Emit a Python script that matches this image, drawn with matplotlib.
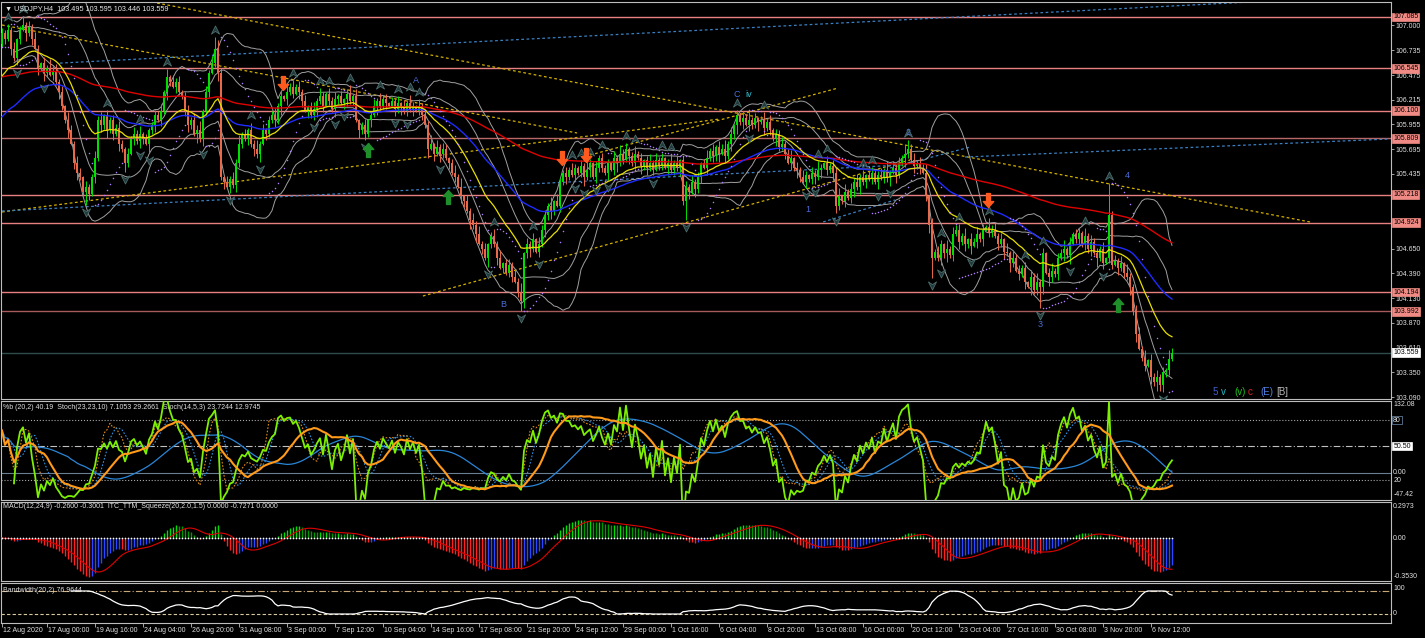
import numpy as np
import pandas as pd
import matplotlib
matplotlib.use('Agg')
import matplotlib.pyplot as plt
from matplotlib.path import Path

plt.rcParams['font.family'] = ['Liberation Sans', 'DejaVu Sans']

# ---------------- data ----------------
title_text = "\u25BC USDJPY,H4  103.495 103.595 103.446 103.559"
first_open = 106.80
closes = [
    106.92, 106.85, 106.95, 106.75, 106.65, 106.85, 106.95, 107.00, 106.92, 106.98,
    106.85, 106.75, 106.55, 106.60, 106.50, 106.55, 106.48, 106.52, 106.40, 106.30,
    106.15, 106.00, 105.90, 105.75, 105.55, 105.45, 105.40, 105.25, 105.30, 105.22,
    105.40, 105.60, 106.00, 105.95, 106.05, 105.90, 106.00, 105.85, 105.92, 105.75,
    105.70, 105.55, 105.65, 105.80, 105.85, 105.78, 105.85, 105.80, 105.75, 105.90,
    105.95, 106.05, 106.00, 106.10, 106.30, 106.45, 106.40, 106.35, 106.40, 106.30,
    106.25, 106.10, 105.95, 106.00, 105.85, 105.90, 105.80, 106.10, 106.30, 106.50,
    106.60, 106.75, 106.50, 105.40, 105.35, 105.30, 105.38, 105.32, 105.55, 105.75,
    105.85, 105.80, 105.90, 105.75, 105.70, 105.65, 105.75, 105.90, 105.85, 106.00,
    106.05, 106.00, 106.15, 106.25, 106.22, 106.30, 106.35, 106.28, 106.35, 106.30,
    106.20, 106.10, 106.15, 106.05, 106.12, 106.20, 106.25, 106.15, 106.28, 106.20,
    106.12, 106.22, 106.25, 106.18, 106.22, 106.28, 106.20, 106.25, 106.00, 105.90,
    105.95, 105.85, 106.00, 106.05, 106.15, 106.20, 106.15, 106.22, 106.18, 106.15,
    106.20, 106.12, 106.18, 106.15, 106.10, 106.18, 106.12, 106.15, 106.10, 106.15,
    106.05, 105.95, 105.70, 105.75, 105.65, 105.72, 105.65, 105.70, 105.60, 105.55,
    105.45, 105.40, 105.30, 105.20, 105.15, 105.05, 104.95, 104.90, 104.80, 104.70,
    104.65, 104.55, 104.70, 104.78, 104.70, 104.55, 104.45, 104.50, 104.40, 104.48,
    104.35, 104.30, 104.20, 104.10, 104.60, 104.70, 104.65, 104.75, 104.62, 104.70,
    104.85, 105.00, 105.10, 105.05, 105.15, 105.10, 105.35, 105.45, 105.40, 105.48,
    105.42, 105.50, 105.45, 105.52, 105.40, 105.48, 105.55, 105.40, 105.50, 105.60,
    105.50, 105.45, 105.55, 105.48, 105.60, 105.55, 105.65, 105.58, 105.70, 105.62,
    105.55, 105.65, 105.60, 105.52, 105.58, 105.50, 105.55, 105.48, 105.58, 105.52,
    105.60, 105.50, 105.55, 105.48, 105.55, 105.50, 105.58, 105.15, 105.30, 105.25,
    105.35, 105.28, 105.40, 105.55, 105.50, 105.60, 105.68, 105.62, 105.72, 105.65,
    105.70, 105.62, 105.75, 105.85, 105.95, 106.05, 105.98, 106.02, 105.95, 106.00,
    105.95, 106.02, 105.98, 106.00, 105.92, 105.98, 105.90, 105.80, 105.85, 105.72,
    105.75, 105.65, 105.55, 105.60, 105.50, 105.48, 105.40, 105.35, 105.42, 105.38,
    105.45, 105.40, 105.48, 105.50, 105.55, 105.48, 105.52, 105.45, 105.10, 105.20,
    105.15, 105.25, 105.18, 105.28, 105.35, 105.30, 105.40, 105.35, 105.42, 105.38,
    105.45, 105.35, 105.42, 105.40, 105.48, 105.40, 105.45, 105.50, 105.42, 105.55,
    105.60, 105.65, 105.70, 105.58, 105.52, 105.55, 105.50, 105.45, 105.20, 104.90,
    104.55, 104.62, 104.55, 104.70, 104.60, 104.65, 104.58, 104.80, 104.85, 104.72,
    104.78, 104.70, 104.75, 104.68, 104.72, 104.80, 104.75, 104.85, 104.88, 104.82,
    104.85, 104.78, 104.70, 104.75, 104.62, 104.60, 104.50, 104.55, 104.42, 104.38,
    104.45, 104.30, 104.25, 104.35, 104.22, 104.30, 104.25, 104.60, 104.40, 104.35,
    104.42, 104.38, 104.55, 104.60, 104.65, 104.58, 104.70, 104.80, 104.75, 104.82,
    104.70, 104.78, 104.65, 104.72, 104.60, 104.55, 104.65, 104.50, 104.55, 105.00,
    104.48, 104.52, 104.45, 104.50, 104.40, 104.35, 104.25, 104.00, 103.75, 103.60,
    103.50, 103.42, 103.48, 103.30, 103.25, 103.30, 103.22, 103.35, 103.38, 103.495,
    103.559,
]
upper_wick = ("3242513624 2531426352 4163253142 2536142435 3142536241 2435162534 1342536142 "
              "5263142536 2415362413 3524163524 2413526314 3524136251 2413526341 3251426315 "
              "2436152431 3526142536 2413526134 2536142415 3426153242 5314263152 4231526341 "
              "3524136252 4136251342 5241362514 3625142536 2413625143 5236142531 4263152436 "
              "1524362513 4235162534 2613524361 5243162534 2614352416 3524162534 2415362413 "
              "5243615243 1625342516 3425163245 2614352416 3")
lower_wick = ("2314253162 4152631425 3261452314 1425362415 2631425316 3514263142 2453162534 "
              "1362514253 3142536142 2536142315 4152362413 2631452316 3425163241 1536242513 "
              "3241526314 2315426351 4163251423 3142536214 2536314252 1423625143 3251462315 "
              "2416352413 3152426315 2634152436 1425362514 3261524153 2415263142 3526142513 "
              "2413625241 3152436152 2631524136 4125362415 2536142513 3142526314 2516342516 "
              "3241526134 2435162413 3152426351 2415362534 2")
wick_unit = 0.015
high_spikes = {7: 107.06, 55: 106.52, 71: 106.87, 245: 106.10, 302: 105.79, 369: 105.34}
low_spikes = {28: 105.11, 121: 105.80, 142: 105.60, 173: 104.00, 228: 104.95,
              278: 105.02, 310: 104.34, 346: 104.03, 386: 103.15}

levels = [107.085, 106.545, 106.100, 105.809, 105.218, 104.924, 104.194, 103.992]
level_labels = ["107.085", "106.545", "106.100", "105.809", "105.218", "104.924", "104.194", "103.992"]
level_colors = ['#e88080', '#e88080', '#e88080', '#b86868', '#e88080', '#e88080', '#e88080', '#a85a5a']
last_price = 103.559

price_ticks = [107.000, 106.735, 106.475, 106.215, 105.955, 105.695, 105.435,
               104.650, 104.390, 104.130, 103.870, 103.610, 103.350, 103.090]
price_tick_labels = ["107.000", "106.735", "106.475", "106.215", "105.955", "105.695", "105.435",
                     "104.650", "104.390", "104.130", "103.870", "103.610", "103.350", "103.090"]

x_label_bars = [0, 15, 31, 47, 63, 79, 95, 111, 127, 143, 159, 175, 191, 207, 223,
                239, 255, 271, 287, 303, 319, 335, 351, 367, 383]
x_labels = ["12 Aug 2020", "17 Aug 00:00", "19 Aug 16:00", "24 Aug 04:00", "26 Aug 20:00",
            "31 Aug 08:00", "3 Sep 00:00", "7 Sep 12:00", "10 Sep 04:00", "14 Sep 16:00",
            "17 Sep 08:00", "21 Sep 20:00", "24 Sep 12:00", "29 Sep 00:00", "1 Oct 16:00",
            "6 Oct 04:00", "8 Oct 20:00", "13 Oct 08:00", "16 Oct 00:00", "20 Oct 12:00",
            "23 Oct 04:00", "27 Oct 16:00", "30 Oct 08:00", "3 Nov 20:00", "6 Nov 12:00"]

# trendlines: (bar0, price0, bar1, price1)
yellow_lines = [(51.7, 107.231, 436.0, 104.931),
                (0.0, 107.000, 191.7, 105.866),
                (0.0, 105.036, 239.3, 106.013),
                (140.3, 104.153, 302.7, 105.582),
                (196.0, 105.634, 278.7, 106.338)]
blue_lines = [(19.3, 106.600, 416.0, 107.242),
              (0.0, 105.046, 299.3, 105.529),
              (296.0, 105.498, 322.7, 105.718),
              (321.0, 105.613, 462.7, 105.803),
              (273.7, 104.931, 297.7, 105.162)]

up_arrow_bars = [122, 148.7, 372]
up_arrow_prices = [105.687, 105.193, 104.060]
down_arrow_bars = [93.7, 186.7, 194.7, 328.7]
down_arrow_prices = [106.390, 105.603, 105.634, 105.162]

wave_text = ["A", "B", "C", "iv", "1", "2", "3", "4"]
wave_bars = [138, 167, 245, 249, 268.7, 302, 346, 375]
wave_prices = [106.42, 104.059, 106.275, 106.275, 105.057, 105.866, 103.849, 105.414]
wave_colors = ['#4a6ed8', '#4a6ed8', '#4a6ed8', '#30c0d0', '#4a6ed8', '#4a6ed8', '#4a6ed8', '#4a6ed8']

corner_text = ["5", "v", "(v)", "c", "(E)", "[B]"]
corner_colors = ['#4060d0', '#20b8c8', '#20c020', '#e02020', '#5080e0', '#b8b8b8']
corner_px = [1213, 1221, 1234, 1248, 1260, 1276]

p1_title = "%b (20,2) 40.19  Stoch(23,23,10) 7.1053 29.2661  Stoch(14,5,3) 23.7244 12.9745"
p2_title = "MACD(12,24,9) -0.2600 -0.3001  ITC_TTM_Squeeze(20,2.0,1.5) 0.0000 -0.7271 0.0000"
p3_title = "Bandwidth(20,2) 76.9644"

# ---------------- derived series ----------------
c = np.array(closes, dtype=float)
n = len(c)
o = np.r_[first_open, c[:-1]]
uw = np.array([int(ch) for ch in upper_wick.replace(' ', '')]) * wick_unit
lw_ = np.array([int(ch) for ch in lower_wick.replace(' ', '')]) * wick_unit
assert len(uw) == n and len(lw_) == n, (len(uw), len(lw_), n)
h = np.maximum(o, c) + uw
l = np.minimum(o, c) - lw_
for k, v in high_spikes.items():
    h[k] = max(h[k], v)
for k, v in low_spikes.items():
    l[k] = min(l[k], v)
x = np.arange(n)


def ema(arr, period, seed):
    a = 2.0 / (period + 1)
    out = np.empty(len(arr))
    prev = seed
    for i, v in enumerate(arr):
        prev = prev + a * (v - prev)
        out[i] = prev
    return out


ma_yellow = ema(c, 21, 106.42)
ma_blue = ema(c, 50, 106.00)
ma_red = ema(c, 150, 106.45)

s = pd.Series(c)
mid = s.rolling(20, min_periods=5).mean()
sd = s.rolling(20, min_periods=5).std(ddof=0)
bb2u, bb2l = mid + 2 * sd, mid - 2 * sd
bb1u, bb1l = mid + 1 * sd, mid - 1 * sd


def psar(hi, lo, step=0.02, mx=0.2):
    out = np.zeros(len(hi))
    bull = True
    af = step
    ep = hi[0]
    out[0] = lo[0]
    for i in range(1, len(hi)):
        prev = out[i - 1]
        sv = prev + af * (ep - prev)
        if bull:
            sv = min(sv, lo[i - 1], lo[max(i - 2, 0)])
            if lo[i] < sv:
                bull, sv, ep, af = False, ep, lo[i], step
            elif hi[i] > ep:
                ep, af = hi[i], min(af + step, mx)
        else:
            sv = max(sv, hi[i - 1], hi[max(i - 2, 0)])
            if hi[i] > sv:
                bull, sv, ep, af = True, ep, hi[i], step
            elif lo[i] < ep:
                ep, af = lo[i], min(af + step, mx)
        out[i] = sv
    return out


sar = psar(h, l)

fr_up = [i for i in range(2, n - 2) if h[i] > max(h[i - 2], h[i - 1], h[i + 1], h[i + 2])]
fr_dn = [i for i in range(2, n - 2) if l[i] < min(l[i - 2], l[i - 1], l[i + 1], l[i + 2])]


def stoch(kp, dp, slow):
    hh = pd.Series(h).rolling(kp, min_periods=1).max()
    ll = pd.Series(l).rolling(kp, min_periods=1).min()
    num = (s - ll).rolling(slow, min_periods=1).sum()
    den = (hh - ll).rolling(slow, min_periods=1).sum()
    main = num / den * 100
    return main, main.rolling(dp, min_periods=1).mean()


st1m, st1s = stoch(23, 23, 10)
st2m, st2s = stoch(14, 5, 3)
pctb = (s - bb2l) / (bb2u - bb2l) * 100

e12 = ema(c, 12, c[0])
e24 = ema(c, 24, c[0])
macd = e12 - e24
macd_sig = pd.Series(macd).rolling(9, min_periods=1).mean()
dm = np.diff(macd, prepend=macd[0])
macd_cols = np.where(macd >= 0, np.where(dm >= 0, '#00e000', '#009a00'),
                     np.where(dm <= 0, '#ff2020', '#2a48ff'))

bw = (4 * sd) / mid * 100
bwmin = bw.rolling(250, min_periods=20).min()
bwmax = bw.rolling(250, min_periods=20).max()
bwn = (bw - bwmin) / (bwmax - bwmin) * 100

# ---------------- figure ----------------
W, H = 1425, 638
fig = plt.figure(figsize=(W / 100, H / 100), dpi=100, facecolor='black')


def add_ax(top, bottom):
    return fig.add_axes([1 / W, 1 - bottom / H, 1390 / W, (bottom - top) / H], facecolor='black')


ax = add_ax(2, 399)
ax1 = add_ax(401, 500)
ax2 = add_ax(502, 581)
ax3 = add_ax(583, 623)
XL = (-0.33, 463.0)
for a in (ax, ax1, ax2, ax3):
    a.set_xlim(*XL)
    for sp in a.spines.values():
        sp.set_color('#bdbdbd')
        sp.set_linewidth(0.8)
    a.tick_params(axis='x', bottom=False, labelbottom=False)
    a.yaxis.tick_right()
    a.tick_params(axis='y', colors='#bdbdbd', labelcolor='#e0e0e0', labelsize=5,
                  length=2, width=0.6, pad=1.5)

FS = 5
# --- main panel ---
ax.set_ylim(103.071, 107.242)
ax.set_yticks(price_ticks)
ax.set_yticklabels(price_tick_labels)

for lv, col in zip(levels, level_colors):
    ax.axhline(lv, color=col, lw=1.0, zorder=1)
ax.axhline(last_price, color='#2e4c4c', lw=1.0, zorder=1)

dash = (0, (2.2, 2.0))
for (b0, p0, b1, p1) in yellow_lines:
    ax.plot([b0, b1], [p0, p1], color='#d2b000', lw=0.9, ls=dash, zorder=1.5)
for (b0, p0, b1, p1) in blue_lines:
    ax.plot([b0, b1], [p0, p1], color='#3a7fc0', lw=0.9, ls=dash, zorder=1.5)

for ub, lb in ((bb2u, bb2l), (bb1u, bb1l)):
    ax.plot(x, ub, color='#a0a0a0', lw=0.7, zorder=2)
    ax.plot(x, lb, color='#a0a0a0', lw=0.7, zorder=2)

bull = c >= o
col_c = np.where(bull, '#00e000', '#e86a4a')
ax.vlines(x, l, h, colors=col_c, lw=0.7, zorder=3)
body_b = np.minimum(o, c)
body_h = np.maximum(np.abs(c - o), 0.004)
ax.bar(x, body_h, bottom=body_b, width=0.62, color=col_c, linewidth=0, zorder=3.1)

ax.plot(x, ma_red, color='#e00000', lw=1.0, zorder=4)
ax.plot(x, ma_blue, color='#1f2cff', lw=1.0, zorder=4)
ax.plot(x, ma_yellow, color='#e8e000', lw=0.9, zorder=4)
ax.scatter(x, sar, s=1.2, color='#b27cff', linewidths=0, zorder=4.5)

up_path = Path([(0, 1), (0.9, -0.8), (0, -0.2), (-0.9, -0.8), (0, 1)],
               [Path.MOVETO, Path.LINETO, Path.LINETO, Path.LINETO, Path.CLOSEPOLY])
dn_path = Path([(0, -1), (0.9, 0.8), (0, 0.2), (-0.9, 0.8), (0, -1)],
               [Path.MOVETO, Path.LINETO, Path.LINETO, Path.LINETO, Path.CLOSEPOLY])
ax.plot(np.array(fr_up), h[fr_up] + 0.075, ls='none', marker=up_path, ms=6.5,
        mfc='#223a3c', mec='#4c6e6e', mew=0.6, zorder=5)
ax.plot(np.array(fr_dn), l[fr_dn] - 0.075, ls='none', marker=dn_path, ms=6.5,
        mfc='#223a3c', mec='#4c6e6e', mew=0.6, zorder=5)

arrow_up = Path([(0, 1), (0.75, 0.15), (0.28, 0.15), (0.28, -1), (-0.28, -1), (-0.28, 0.15),
                 (-0.75, 0.15), (0, 1)],
                [Path.MOVETO] + [Path.LINETO] * 6 + [Path.CLOSEPOLY])
arrow_dn = Path([(0, -1), (0.75, -0.15), (0.28, -0.15), (0.28, 1), (-0.28, 1), (-0.28, -0.15),
                 (-0.75, -0.15), (0, -1)],
                [Path.MOVETO] + [Path.LINETO] * 6 + [Path.CLOSEPOLY])
ax.plot(up_arrow_bars, up_arrow_prices, ls='none', marker=arrow_up, ms=10,
        mfc='#1f8f2a', mec='#1f8f2a', zorder=6)
ax.plot(down_arrow_bars, down_arrow_prices, ls='none', marker=arrow_dn, ms=10,
        mfc='#ff5a1e', mec='#ff5a1e', zorder=6)

for t, b, p, colr in zip(wave_text, wave_bars, wave_prices, wave_colors):
    ax.text(b, p, t, color=colr, fontsize=6.5, ha='center', va='center', zorder=7)


def rlabel(a, yv, txt, fc, ec=None, tc='black'):
    a.text(1.0016, yv, txt, transform=a.get_yaxis_transform(), fontsize=FS, color=tc,
           va='center', ha='left', clip_on=False, zorder=10,
           bbox=dict(boxstyle='square,pad=0.12', fc=fc, ec=ec or fc, lw=0.5))


for lv, lab in zip(levels, level_labels):
    rlabel(ax, lv, lab, '#f08a84')
rlabel(ax, last_price, "103.559", 'white')

fig.text(5 / W, 1 - 9 / H, title_text, color='#e8e8e8', fontsize=5.2, va='center', ha='left')
for t, colr, px in zip(corner_text, corner_colors, corner_px):
    fig.text(px / W, 1 - 392 / H, t, color=colr, fontsize=7, va='center', ha='left')

# --- panel 1 ---
ax1.set_ylim(-10, 113.75)
ax1.set_yticks([])
p1_levels = [90.0, 57.5, 23.75, 15.0]
p1_styles = [(':', '#a8a8a8'), ((0, (6, 2, 1, 2)), '#c0c0c0'), ('-', '#6a7f92'), (':', '#a8a8a8')]
for v, (ls, colr) in zip(p1_levels, p1_styles):
    ax1.axhline(v, color=colr, lw=0.8, ls=ls, zorder=1)
ax1.plot(x, st2m, color='#e08a1a', lw=0.8, ls=(0, (1.5, 1.5)), zorder=2)
ax1.plot(x, st2s, color='#2f8fe0', lw=0.8, ls=(0, (1.5, 1.5)), zorder=2)
ax1.plot(x, st1s, color='#2a86d8', lw=0.9, zorder=3)
ax1.plot(x, pctb, color='#7cf000', lw=1.3, zorder=4)
ax1.plot(x, st1m, color='#ff9a1a', lw=1.5, zorder=5)
p1_lab_vals = [108.75, 23.75, 15.0, -2.5]
p1_lab_txt = ["132.08", "0.00", "20", "-47.42"]
for v, t in zip(p1_lab_vals, p1_lab_txt):
    ax1.text(1.0016, v, t, transform=ax1.get_yaxis_transform(), fontsize=FS, color='#e0e0e0',
             va='center', ha='left', clip_on=False)
rlabel(ax1, 90.0, "80", 'black', ec='#7090b0', tc='#e0e0e0')
rlabel(ax1, 57.5, "50.50", 'white')
ax1.text(2 / 1390, 0.935, p1_title, transform=ax1.transAxes, fontsize=FS, color='#e0e0e0',
         va='center', ha='left')

# --- panel 2 ---
ax2.set_ylim(-0.399, 0.3345)
ax2.set_yticks([])
ax2.vlines(x, 0, macd, colors=macd_cols, lw=1.0, zorder=2)
ax2.plot(x, macd_sig, color='#e00000', lw=0.8, zorder=3)
ax2.scatter(x, np.zeros(n), s=1.5, color='white', linewidths=0, zorder=4)
for v, t in zip([0.2973, 0.0, -0.353], ["0.2973", "0.00", "-0.3530"]):
    ax2.text(1.0016, v, t, transform=ax2.get_yaxis_transform(), fontsize=FS, color='#e0e0e0',
             va='center', ha='left', clip_on=False)
ax2.text(2 / 1390, 0.94, p2_title, transform=ax2.transAxes, fontsize=FS, color='#e0e0e0',
         va='center', ha='left')

# --- panel 3 ---
ax3.set_ylim(-39, 134.8)
ax3.set_yticks([])
ax3.axhline(100, color='#c8a878', lw=0.8, ls=(0, (6, 2, 1, 2)), zorder=1)
ax3.axhline(0, color='#d8c8a0', lw=0.8, ls=(0, (3, 2)), zorder=1)
ax3.plot(x, bwn, color='white', lw=0.9, zorder=2)
for v, t in zip([110, 2], ["100", "0"]):
    ax3.text(1.0016, v, t, transform=ax3.get_yaxis_transform(), fontsize=FS, color='#e0e0e0',
             va='center', ha='left', clip_on=False)
ax3.text(2 / 1390, 0.82, p3_title, transform=ax3.transAxes, fontsize=FS, color='#e0e0e0',
         va='center', ha='left')

ax3.set_xticks(x_label_bars)
ax3.tick_params(axis='x', bottom=True, labelbottom=False, length=3, width=0.6,
                color='#bdbdbd', direction='out')
for b, t in zip(x_label_bars, x_labels):
    ax3.text(b + 0.5, -0.18, t, transform=ax3.get_xaxis_transform(), fontsize=FS,
             color='#e0e0e0', va='center', ha='left', clip_on=False)

fig.savefig('out.png', dpi=100, facecolor='black')
